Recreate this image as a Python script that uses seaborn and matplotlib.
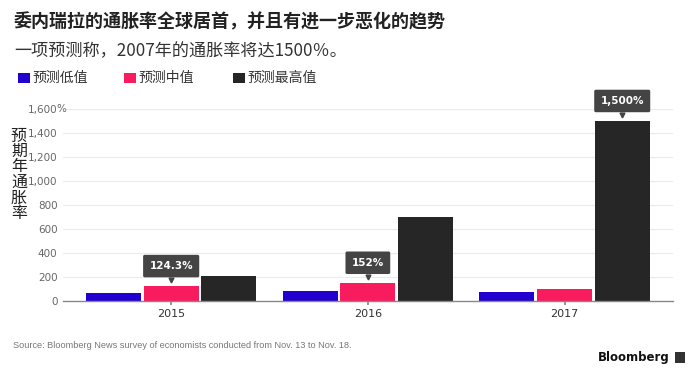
import numpy as np
import pandas as pd
import matplotlib
matplotlib.use("Agg")
import matplotlib.pyplot as plt
import matplotlib.transforms as mtransforms
import seaborn as sns
from matplotlib.patches import Rectangle

# -------------------
# DATA
# -------------------
years = ["2015", "2016", "2017"]
series = ["预测低值", "预测中值", "预测最高值"]
low_vals = [65, 86, 75]
mid_vals = [124.3, 152, 97]
high_vals = [211, 700, 1500]
callouts = [("2015", "预测中值", "124.3%"), ("2016", "预测中值", "152%"), ("2017", "预测最高值", "1,500%")]
yticks = [0, 200, 400, 600, 800, 1000, 1200, 1400, 1600]
ytick_labels = ["0", "200", "400", "600", "800", "1,000", "1,200", "1,400", "1,600"]
colors = ["#2200d0", "#f81c5e", "#262626"]

title = "委内瑞拉的通胀率全球居首，并且有进一步恶化的趋势"
subtitle = "一项预测称，2007年的通胀率将达1500％。"
ylabel = "预期年通胀率"
source = "Source: Bloomberg News survey of economists conducted from Nov. 13 to Nov. 18."

df = pd.DataFrame({
    "year": years * 3,
    "series": [s for s in series for _ in years],
    "value": low_vals + mid_vals + high_vals,
})

# -------------------
# PLOT
# -------------------
sns.set_theme(style="white")
plt.rcParams["font.family"] = ["Noto Sans CJK SC", "DejaVu Sans"]

fig = plt.figure(figsize=(7, 3.7), dpi=100)
ax = fig.add_axes([0.09, 0.1865, 0.871, 0.519])

sns.barplot(data=df, x="year", y="value", hue="series", hue_order=series,
            palette=colors, saturation=1, width=0.88, gap=0.05, ax=ax,
            legend=False, edgecolor="none", linewidth=0)

ax.set_xlim(-0.55, 2.55)
ax.set_ylim(0, 1600)
ax.set_yticks(yticks)
ax.set_yticklabels(ytick_labels, fontsize=7.5, color="#666666", family="DejaVu Sans")
# the % sign hangs past the right edge of the top label
ax.text(-0.0105, 1600, "%", transform=mtransforms.blended_transform_factory(ax.transAxes, ax.transData),
        ha="left", va="center", fontsize=7.5, color="#666666", family="DejaVu Sans")
for lab in ax.get_xticklabels():
    lab.set_fontsize(8)
    lab.set_color("#333333")
    lab.set_family("DejaVu Sans")
ax.set_xlabel("")
ax.set_ylabel("")
ax.yaxis.grid(True, color="#ebebeb", linewidth=0.8)
ax.set_axisbelow(True)
for s in ["top", "right", "left"]:
    ax.spines[s].set_visible(False)
ax.spines["bottom"].set_color("#888888")
ax.spines["bottom"].set_linewidth(1)
ax.tick_params(axis="x", length=3, color="#888888", pad=3, bottom=True)
ax.tick_params(axis="y", length=0, pad=4)

# callout boxes
bar_lookup = {}
for i, s in enumerate(series):
    cont = ax.containers[i]
    for j, y in enumerate(years):
        bar_lookup[(y, s)] = cont[j]
for y, s, txt in callouts:
    b = bar_lookup[(y, s)]
    cx = b.get_x() + b.get_width() / 2
    top = b.get_height()
    ax.annotate(txt, xy=(cx, top), xytext=(0, 20), textcoords="offset pixels",
                ha="center", va="center", color="white", fontsize=7.5, fontweight="bold",
                family="DejaVu Sans", annotation_clip=False,
                bbox=dict(boxstyle="round,pad=0.6,rounding_size=0.15", fc="#444444", ec="none"))
    ax.plot([cx], [top], marker="v", markersize=3.5, color="#444444",
            transform=ax.transData + mtransforms.ScaledTranslation(0, 6 / 100, fig.dpi_scale_trans),
            clip_on=False)

# -------------------
# TEXT
# -------------------
fig.text(0.02, 0.94, title, fontsize=13, fontweight="bold", color="#222222", va="center")
fig.text(0.02, 0.862, subtitle, fontsize=12.3, color="#333333", va="center")

leg_x = [0.026, 0.177, 0.333]
for x, lab, c in zip(leg_x, series, colors):
    fig.patches.append(Rectangle((x, 0.775), 0.017, 0.029, transform=fig.transFigure,
                                 facecolor=c, edgecolor="none"))
    fig.text(x + 0.021, 0.79, lab, fontsize=10, color="#333333", va="center")

fig.text(0.027, 0.528, "\n".join(ylabel), fontsize=11.5, color="#222222",
         ha="center", va="center", linespacing=0.88)

fig.text(0.019, 0.065, source, fontsize=6.6, color="#777777", va="center",
         family=["Liberation Sans", "DejaVu Sans"])
fig.text(0.957, 0.033, "Bloomberg", fontsize=8.5, fontweight="bold", color="#111111",
         ha="right", va="center", family="DejaVu Sans")
fig.patches.append(Rectangle((0.964, 0.02), 0.015, 0.028, transform=fig.transFigure,
                             facecolor="#333333", edgecolor="none"))

fig.savefig("out.png", dpi=100, facecolor="white")
